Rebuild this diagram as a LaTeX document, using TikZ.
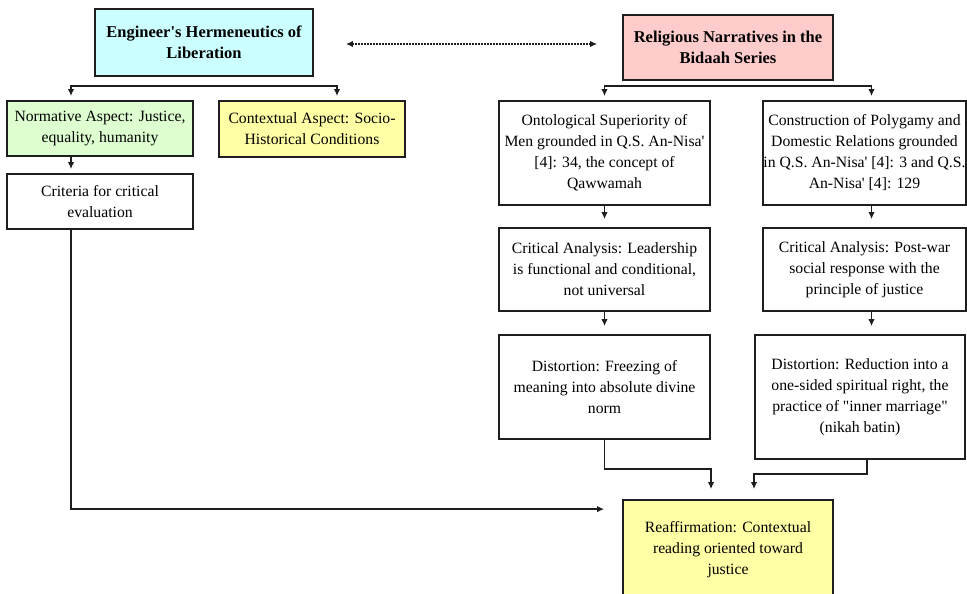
\documentclass[tikz,border=0pt]{standalone}
\usepackage{fontspec}
\setmainfont{Liberation Serif}
\usetikzlibrary{arrows.meta,positioning,calc}
\definecolor{lineC}    {HTML}{1E1E1E}
\definecolor{engFill}  {HTML}{CCFFFF}
\definecolor{relFill}  {HTML}{FFCCCC}
\definecolor{normFill} {HTML}{DEFFD0}
\definecolor{ctxFill}  {HTML}{FFFFA6}
\definecolor{reafFill} {HTML}{FFFFA6}
\tikzset{
  >={Latex[length=7pt,width=6.5pt]},
  boxPlain/.style={draw=lineC,line width=1.8pt,fill=white,
                   font=\fontsize{15.7}{21}\selectfont,align=center,
                   inner sep=0pt,anchor=center},
  boxEng/.style={boxPlain,fill=engFill,font=\fontsize{16.5}{21}\selectfont\bfseries},
  boxRel/.style={boxPlain,fill=relFill,font=\fontsize{16.5}{21}\selectfont\bfseries},
  boxNorm/.style={boxPlain,fill=normFill},
  boxCtx/.style={boxPlain,fill=ctxFill},
  boxReaf/.style={boxPlain,fill=reafFill},
  flowArrow/.style={->,line width=1.6pt,lineC},
  forkArrow/.style={<->,line width=1.6pt,lineC,shorten <=4pt,shorten >=4pt},
  linkDotted/.style={<->,line width=1.6pt,lineC,dash pattern=on 1.5pt off 1.5pt},
}

\begin{document}
\begin{tikzpicture}[x=1pt,y=-1pt]
\useasboundingbox (0,0) rectangle (967,594);

% Two headings joined by a dotted link.
\node[boxEng,minimum width=218pt,minimum height=67pt]
  (eng) at (204,42.5) {Engineer\textquotesingle s Hermeneutics of\\ Liberation};
\node[boxRel,minimum width=210pt,minimum height=65pt]
  (rel) at (728,47.5) {Religious Narratives in the\\ Bidaah Series};
\draw[linkDotted,shorten <=32pt,shorten >=25pt]
  ([yshift=-1.5pt]eng.east) -- ([yshift=-1.5pt]eng.east -| rel.west);

% Left branch: aspects of the hermeneutics.
\node[boxNorm,minimum width=186pt,minimum height=55pt]
  (norm) at (100,128.5) {Normative Aspect: Justice,\\ equality, humanity};
\node[boxCtx,minimum width=186pt,minimum height=56pt]
  (ctx) at (312,129) {Contextual Aspect: Socio-\\ Historical Conditions};
\node[boxPlain,minimum width=186pt,minimum height=55pt]
  (crit) at (100,201.5) {Criteria for critical\\ evaluation};

% Right branch: two narratives, each analysed and distorted.
\node[boxPlain,minimum width=211pt,minimum height=104pt]
  (ont) at (604.5,153) {Ontological Superiority of\\ Men grounded in Q.S. An-Nisa\textquotesingle\\ {[4]}: 34, the concept of\\ Qawwamah};
\node[boxPlain,minimum width=203pt,minimum height=104pt]
  (cons) at (864.5,153) {Construction of Polygamy and\\ Domestic Relations grounded\\ in Q.S. An-Nisa\textquotesingle{} [4]: 3 and Q.S.\\ An-Nisa\textquotesingle{} [4]: 129};
\node[boxPlain,minimum width=211pt,minimum height=83pt]
  (caL) at (604.5,269.5) {Critical Analysis: Leadership\\ is functional and conditional,\\ not universal};
\node[boxPlain,minimum width=203pt,minimum height=83pt]
  (caR) at (864.5,269.5) {Critical Analysis: Post-war\\ social response with the\\ principle of justice};
\node[boxPlain,minimum width=211pt,minimum height=104pt]
  (distL) at (604.5,387) {Distortion: Freezing of\\ meaning into absolute divine\\ norm};
\node[boxPlain,minimum width=210pt,minimum height=124pt]
  (distR) at (860,397) {Distortion: Reduction into a\\ one-sided spiritual right, the\\ practice of \textquotedbl inner marriage\textquotedbl\\ (nikah batin)};

\node[boxReaf,minimum width=210pt,minimum height=100pt]
  (reaf) at (728,550) {Reaffirmation: Contextual\\ reading oriented toward\\ justice};

% Forks under the headings.
\coordinate (engBar) at (204,86);
\coordinate (relBar) at (728,86);
\draw[forkArrow] ([xshift=-29pt]norm.north) |- (engBar) -| ([xshift=25pt]ctx.north);
\draw[forkArrow] (ont.north) |- (relBar) -| ([xshift=7pt]cons.north);

% Vertical steps.
\draw[flowArrow,shorten >=4pt] ([xshift=-29pt]norm.south) -- ([xshift=-29pt]crit.north);
\draw[flowArrow,shorten >=8pt] (ont.south) -- (caL.north);
\draw[flowArrow,shorten >=8pt] ([xshift=7pt]cons.south) -- ([xshift=7pt]caR.north);
\draw[flowArrow,shorten >=8pt] (caL.south) -- (caL.south |- distL.north);
\draw[flowArrow,shorten >=8pt] ([xshift=7pt]caR.south) -- ([xshift=7pt]caR.south |- distR.north);

% Everything converges on the reaffirmation.
\draw[flowArrow,shorten >=10pt] (distL.south) -- ++(0,29) -| ([xshift=-17pt]reaf.north);
\draw[flowArrow,shorten >=10pt] ([xshift=7pt]distR.south) -- ++(0,14) -| ([xshift=26pt]reaf.north);
\draw[flowArrow,shorten >=18pt] ([xshift=-29pt]crit.south) |- ([yshift=-10pt]reaf.north west);

\end{tikzpicture}
\end{document}
